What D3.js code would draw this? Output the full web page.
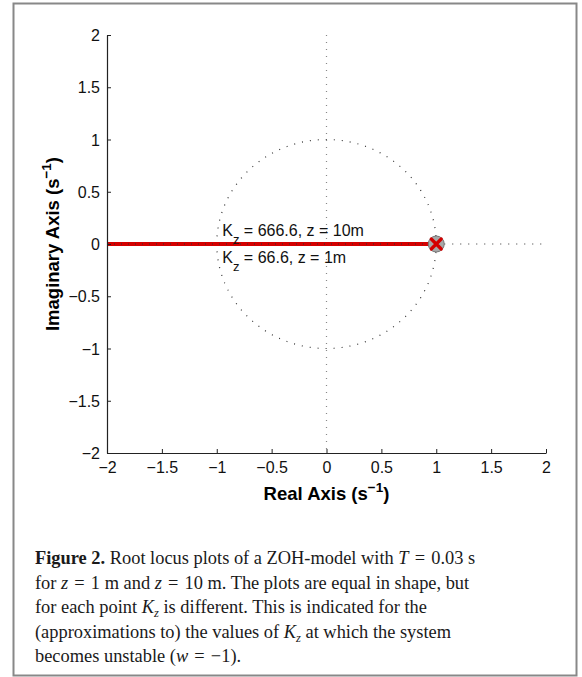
<!DOCTYPE html>
<html><head><meta charset="utf-8">
<script src="https://cdn.jsdelivr.net/npm/d3@7"></script>
<style>
body{margin:0;background:#fff;}
svg{display:block;}
</style></head>
<body>
<svg id="chart" width="582" height="677"></svg>
<script>
// ---- data ----
const xTicks = [-2, -1.5, -1, -0.5, 0, 0.5, 1, 1.5, 2];
const yTicks = [-2, -1.5, -1, -0.5, 0, 0.5, 1, 1.5, 2];
const xDomain = [-2, 2];
const yDomain = [-2, 2];
const locusRe = [-2, 1];          // root locus branch along the real axis
const locusIm = [0, 0];
const poles = [{re: 1, im: 0}];
const gainLabels = [
  {re: -0.95, im: 0.08, k: "666.6", z: "10m"},
  {re: -0.95, im: -0.18, k: "66.6", z: "1m"}
];
const unitCircleRadius = 1;
const stabilityRayX = [1, 2];     // dotted real-axis extension

const svg = d3.select("#chart");
const SANS = "Liberation Sans, Arial, sans-serif";

// frame
svg.append("rect").attr("x", 13.5).attr("y", 3.5).attr("width", 563).attr("height", 672)
  .attr("fill", "none").attr("stroke", "#888").attr("stroke-width", 2);

const x = d3.scaleLinear().domain(xDomain).range([107, 546]);
const y = d3.scaleLinear().domain(yDomain).range([453, 35]);

const g = svg.append("g");

// unit circle, dotted
const angles = d3.range(0, 2 * Math.PI + 0.001, Math.PI / 180);
const circLine = d3.line().x(a => x(unitCircleRadius * Math.cos(a))).y(a => y(unitCircleRadius * Math.sin(a)));
g.append("path").attr("d", circLine(angles)).attr("fill", "none")
  .attr("stroke", "#333").attr("stroke-width", 1.2).attr("stroke-dasharray", "1,7");

// imaginary axis dotted
g.append("line").attr("x1", x(0)).attr("x2", x(0)).attr("y1", y(yDomain[1])).attr("y2", y(yDomain[0]))
  .attr("stroke", "#888").attr("stroke-width", 1.2).attr("stroke-dasharray", "1,6");
// real axis dotted extension
g.append("line").attr("x1", x(stabilityRayX[0])).attr("x2", x(stabilityRayX[1]) - 4).attr("y1", y(0)).attr("y2", y(0))
  .attr("stroke", "#333").attr("stroke-width", 1.2).attr("stroke-dasharray", "1,7");

// locus red line
const locusPts = locusRe.map((r, i) => [r, locusIm[i]]);
const lineGen = d3.line().x(d => x(d[0])).y(d => y(d[1]));
g.append("path").attr("d", lineGen(locusPts)).attr("fill", "none")
  .attr("stroke", "#d40000").attr("stroke-width", 4);
g.append("path").attr("d", lineGen(locusPts)).attr("fill", "none")
  .attr("stroke", "#333").attr("stroke-width", 1.2).attr("stroke-dasharray", "1,6");

// pole markers
poles.forEach(p => {
  const cx = x(p.re), cy = y(p.im);
  g.append("circle").attr("cx", cx).attr("cy", cy).attr("r", 8)
    .attr("fill", "#a8a8a8").attr("stroke", "#777").attr("stroke-width", 1);
  const s = 5;
  g.append("path").attr("d", `M${cx - s},${cy - s}L${cx + s},${cy + s}M${cx - s},${cy + s}L${cx + s},${cy - s}`)
    .attr("stroke", "#d40000").attr("stroke-width", 3.2).attr("stroke-linecap", "round");
});

// axes
const fmt = d => d3.format("")(d).replace("-", "\u2212");
const xAxis = d3.axisBottom(x).tickValues(xTicks).tickSizeInner(-4).tickSizeOuter(0).tickFormat(fmt);
const yAxis = d3.axisLeft(y).tickValues(yTicks).tickSizeInner(-4).tickSizeOuter(0).tickFormat(fmt);

const gx = svg.append("g").attr("transform", `translate(0,${y(yDomain[0])})`).call(xAxis);
const gy = svg.append("g").attr("transform", `translate(${x(xDomain[0])},0)`).call(yAxis);
[gx, gy].forEach(a => {
  a.select(".domain").attr("stroke", "#222").attr("stroke-width", 1.2);
  a.selectAll(".tick line").attr("stroke", "#222");
  a.selectAll("text").attr("font-family", SANS).attr("font-size", 16).attr("fill", "#111");
});
gx.selectAll("text").attr("dy", null).attr("y", 20);
gy.selectAll("text").attr("x", -7).attr("dy", "0.35em");

// axis labels
const xl = svg.append("text").attr("x", x(0)).attr("y", 500).attr("text-anchor", "middle")
  .attr("font-family", SANS).attr("font-size", 18.5).attr("font-weight", "bold");
xl.append("tspan").text("Real Axis (s");
xl.append("tspan").attr("dy", -8).attr("font-size", 13.5).text("\u22121");
xl.append("tspan").attr("dy", 8).text(")");

const yl = svg.append("text").attr("transform", `translate(59,${y(0)}) rotate(-90)`).attr("text-anchor", "middle")
  .attr("font-family", SANS).attr("font-size", 18.5).attr("font-weight", "bold");
yl.append("tspan").text("Imaginary Axis (s");
yl.append("tspan").attr("dy", -8).attr("font-size", 13.5).text("\u22121");
yl.append("tspan").attr("dy", 8).text(")");

// gain labels
gainLabels.forEach(l => {
  const t = svg.append("text").attr("x", x(l.re)).attr("y", y(l.im))
    .attr("font-family", SANS).attr("font-size", 16).attr("fill", "#111");
  t.append("tspan").text("K");
  t.append("tspan").attr("dy", 8).attr("font-size", 13).text("z");
  t.append("tspan").attr("dy", -8).text(` = ${l.k}, z = ${l.z}`);
});

// caption
const capLines = [
  [["b","Figure 2."],["n"," Root locus plots of a ZOH-model with "],["i","T"],["n"," = 0.03 s"]],
  [["n","for "],["i","z"],["n"," = 1 m and "],["i","z"],["n"," = 10 m. The plots are equal in shape, but"]],
  [["n","for each point "],["i","K"],["sub","z"],["n"," is different. This is indicated for the"]],
  [["n","(approximations to) the values of "],["i","K"],["sub","z"],["n"," at which the system"]],
  [["n","becomes unstable ("],["i","w"],["n"," = \u22121)."]]
];
capLines.forEach((ln, i) => {
  const t = svg.append("text").attr("x", 35).attr("y", 564 + i * 24.5)
    .attr("font-family", "Liberation Serif, Times New Roman, serif").attr("font-size", 18.4).attr("fill", "#1a1a1a");
  let shifted = false;
  ln.forEach(([k, s]) => {
    const sp = t.append("tspan").text(s.replace(/ = /g, "\u2004=\u2004"));
    if (k === "b") sp.attr("font-weight", "bold");
    if (k === "i") sp.attr("font-style", "italic");
    if (k === "sub") { sp.attr("font-style", "italic").attr("font-size", 12.5).attr("dy", 4); shifted = true; }
    else if (shifted) { sp.attr("dy", -4); shifted = false; }
  });
});
</script>
</body></html>
